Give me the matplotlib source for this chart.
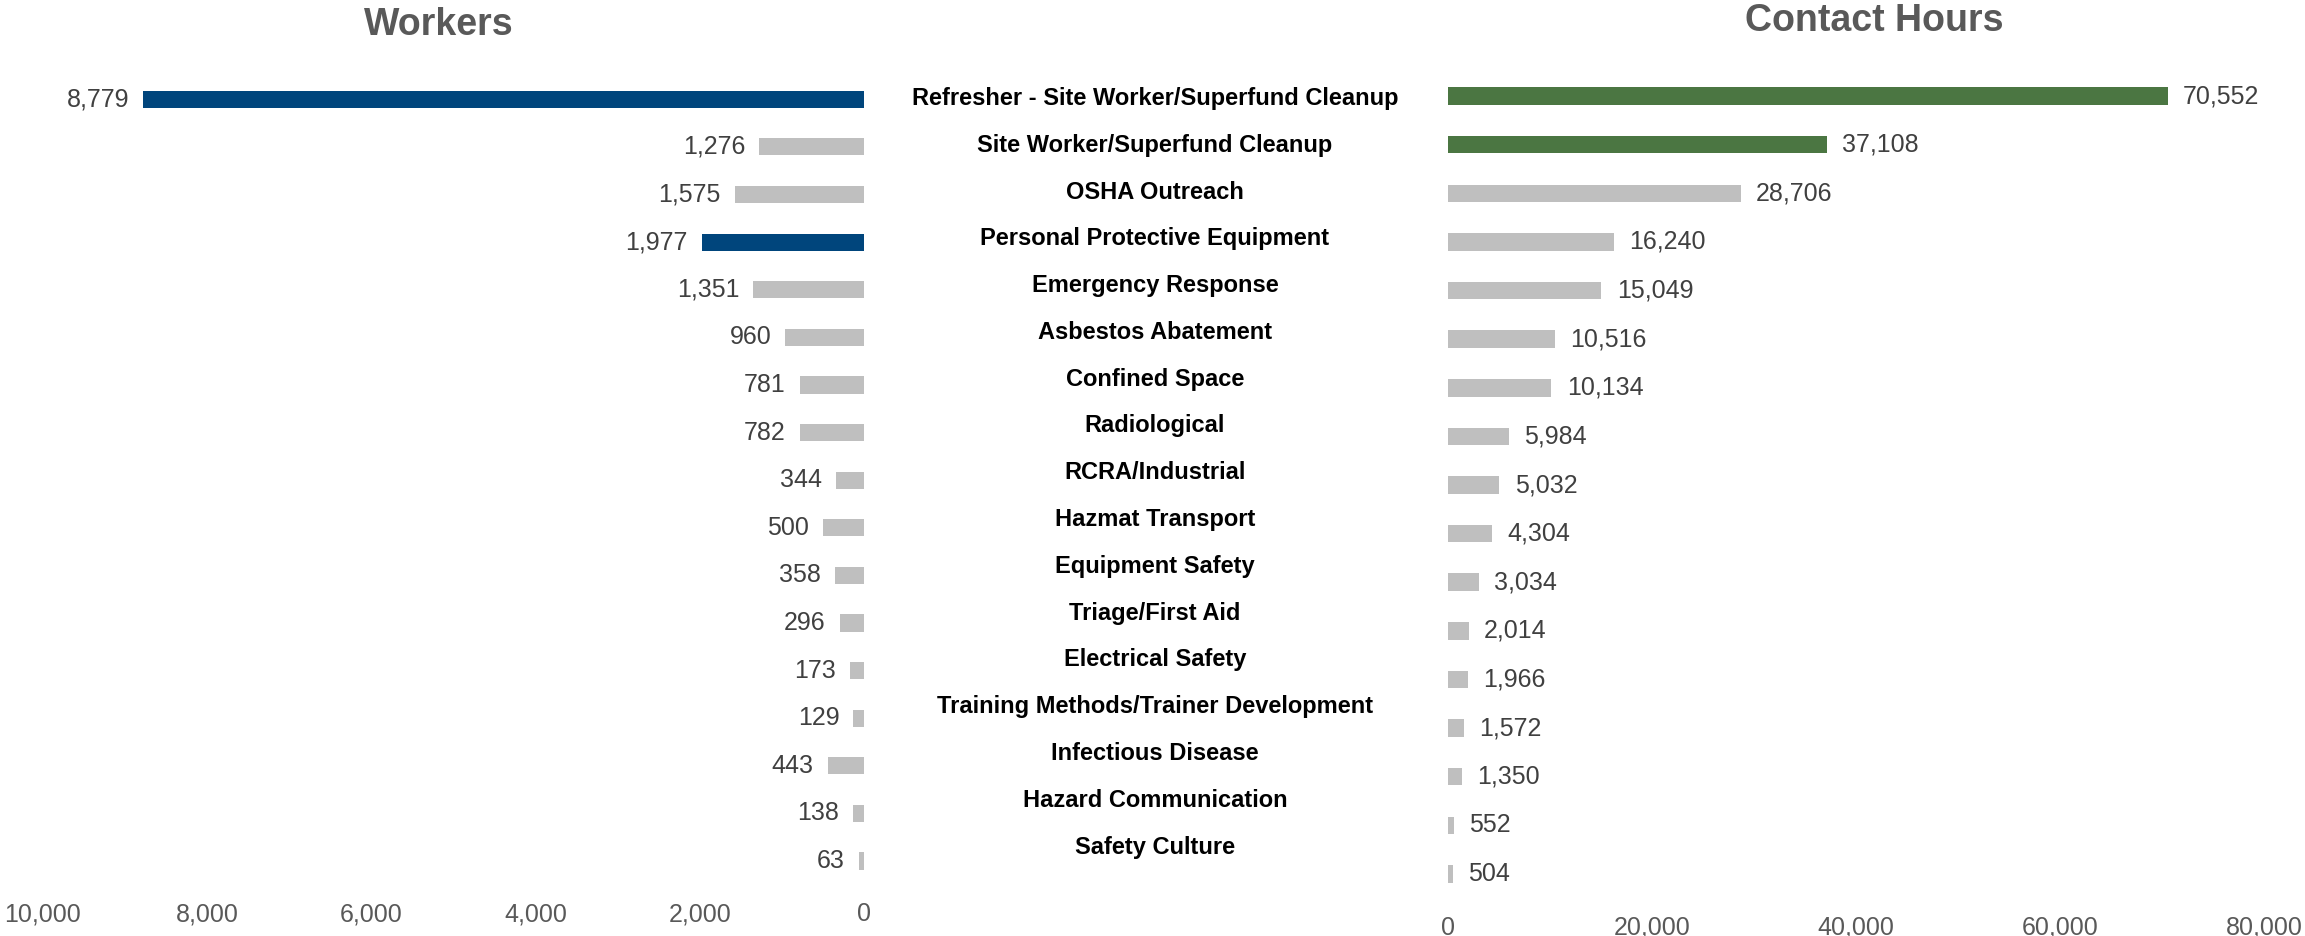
import matplotlib
matplotlib.use('Agg')
import matplotlib.pyplot as plt
from matplotlib.ticker import FuncFormatter

plt.rcParams['font.family'] = ['Liberation Sans', 'DejaVu Sans']

# data
courses = ['Refresher - Site Worker/Superfund Cleanup', 'Site Worker/Superfund Cleanup',
           'OSHA Outreach', 'Personal Protective Equipment', 'Emergency Response',
           'Asbestos Abatement', 'Confined Space', 'Radiological', 'RCRA/Industrial',
           'Hazmat Transport', 'Equipment Safety', 'Triage/First Aid', 'Electrical Safety',
           'Training Methods/Trainer Development', 'Infectious Disease',
           'Hazard Communication', 'Safety Culture']
workers = [8779, 1276, 1575, 1977, 1351, 960, 781, 782, 344, 500, 358, 296, 173, 129, 443, 138, 63]
hours = [70552, 37108, 28706, 16240, 15049, 10516, 10134, 5984, 5032, 4304, 3034, 2014, 1966,
         1572, 1350, 552, 504]
workers_hi = [0, 3]      # highlighted bars (blue)
hours_hi = [0, 1]        # highlighted bars (green)

W, H = 2305, 936
fig = plt.figure(figsize=(W / 100, H / 100), dpi=100)

def ax_at(x0, x1, y0, y1):
    # pixel box -> axes
    return fig.add_axes([x0 / W, 1 - y1 / H, (x1 - x0) / W, (y1 - y0) / H])

n = len(courses)
pos = list(range(n))
comma = FuncFormatter(lambda v, p: f'{int(v):,}')
gray = '#BFBFBF'

# left: workers
sp = 47.6
axl = ax_at(43, 864, 99.3 - sp * 0.6, 861 + sp * 0.6)
cols = ['#00457C' if i in workers_hi else gray for i in pos]
axl.barh(pos, workers, height=0.36, color=cols)
axl.set_xlim(10000, 0)
axl.set_ylim(n - 0.4, -0.6)
axl.set_xticks(range(0, 10001, 2000))
axl.xaxis.set_major_formatter(comma)
axl.set_yticks([])
for i, v in enumerate(workers):
    axl.annotate(f'{v:,}', (v, i), xytext=(-10, 0), textcoords='offset points',
                 ha='right', va='center', fontsize=18, color='#404040')

# right: contact hours
sp2 = 48.6
axr = ax_at(1448, 2264, 96 - sp2 * 0.6, 874 + sp2 * 0.6)
cols = ['#4B7642' if i in hours_hi else gray for i in pos]
axr.barh(pos, hours, height=0.36, color=cols)
axr.set_xlim(0, 80000)
axr.set_ylim(n - 0.4, -0.6)
axr.set_xticks(range(0, 80001, 20000))
axr.xaxis.set_major_formatter(comma)
axr.set_yticks([])
for i, v in enumerate(hours):
    axr.annotate(f'{v:,}', (v, i), xytext=(11, 0), textcoords='offset points',
                 ha='left', va='center', fontsize=18, color='#404040')

for ax in (axl, axr):
    for s in ax.spines.values():
        s.set_visible(False)
    ax.tick_params(axis='x', length=0, labelsize=18, labelcolor='#595959', pad=9)

# middle: course names
sp3 = 46.8
axm = ax_at(870, 1440, 98.5 - sp3 * 0.5, 847 + sp3 * 0.5)
axm.set_xlim(0, 1)
axm.set_ylim(n - 0.5, -0.5)
axm.axis('off')
for i, c in enumerate(courses):
    axm.text(0.5, i, c, ha='center', va='center', fontsize=17, fontweight='bold', color='black')

fig.text(439 / W, 1 - 25 / H, 'Workers', ha='center', va='center',
         fontsize=27, fontweight='bold', color='#595959')
fig.text(1874 / W, 1 - 21 / H, 'Contact Hours', ha='center', va='center',
         fontsize=27, fontweight='bold', color='#595959')

fig.savefig('out.png', dpi=100, facecolor='white')
